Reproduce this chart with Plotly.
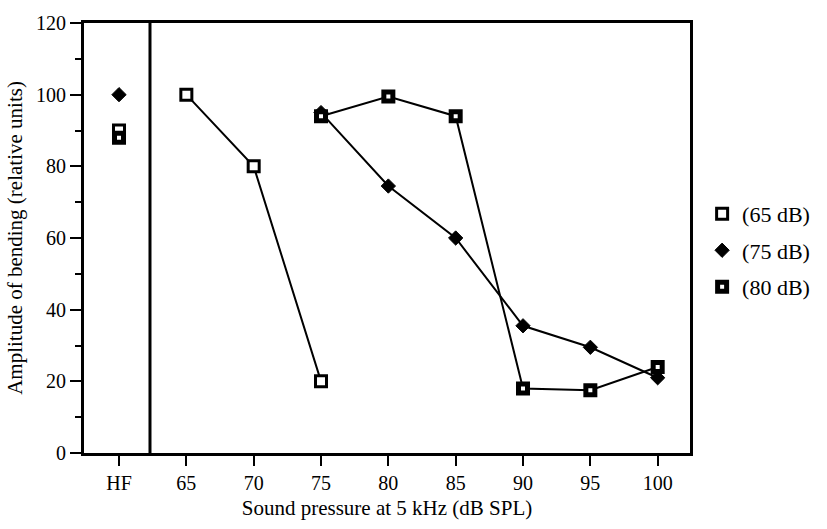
import plotly.graph_objects as go

# ---- data ----
x_main = [65, 70, 75, 80, 85, 90, 95, 100]
hf_pos = 60          # position of the "HF" category on the x scale
sep_pos = 62.3       # position of the separator between HF and the dB scale

s65_x = [65, 70, 75]
s65_y = [100, 80, 20]
s65_hf = 90

s75_x = [75, 80, 85, 90, 95, 100]
s75_y = [95, 74.5, 60, 35.5, 29.5, 21]
s75_hf = 100

s80_x = [75, 80, 85, 90, 95, 100]
s80_y = [94, 99.5, 94, 18, 17.5, 24]
s80_hf = 88

tick_vals = [60, 65, 70, 75, 80, 85, 90, 95, 100]
tick_text = ["HF", "65", "70", "75", "80", "85", "90", "95", "100"]

names = ["(65 dB)", "(75 dB)", "(80 dB)"]

FONT = "Liberation Serif, Times New Roman, serif"

fig = go.Figure()

# lines first
for xs, ys in [(s65_x, s65_y), (s75_x, s75_y), (s80_x, s80_y)]:
    fig.add_trace(go.Scatter(x=xs, y=ys, mode="lines",
                             line=dict(color="black", width=2),
                             showlegend=False, hoverinfo="skip"))

m65 = dict(symbol="square", size=11, color="white", line=dict(color="black", width=3))
m75 = dict(symbol="diamond", size=11, color="black", line=dict(color="black", width=1))
m80 = dict(symbol="square", size=9, color="white", line=dict(color="black", width=5))

# markers
fig.add_trace(go.Scatter(x=[hf_pos] + s65_x, y=[s65_hf] + s65_y, mode="markers",
                         marker=m65, name=names[0], legendgroup="a"))
fig.add_trace(go.Scatter(x=[hf_pos] + s75_x, y=[s75_hf] + s75_y, mode="markers",
                         marker=m75, name=names[1], legendgroup="b"))
fig.add_trace(go.Scatter(x=[hf_pos] + s80_x, y=[s80_hf] + s80_y, mode="markers",
                         marker=m80, name=names[2], legendgroup="c"))

fig.add_shape(type="line", x0=sep_pos, x1=sep_pos, y0=0, y1=120,
              xref="x", yref="y", line=dict(color="black", width=3))

fig.update_layout(
    width=827, height=529,
    margin=dict(l=84, r=122, t=15, b=66),
    paper_bgcolor="white", plot_bgcolor="white",
    font=dict(family=FONT, size=20, color="black"),
    showlegend=True,
    legend=dict(x=1.02, y=0.605, xanchor="left", yanchor="top",
                font=dict(family=FONT, size=22, color="black"),
                tracegroupgap=5, bgcolor="rgba(0,0,0,0)"),
    xaxis=dict(range=[57.4, 102.4], tickvals=tick_vals, ticktext=tick_text,
               showgrid=False, zeroline=False, showline=True, linecolor="black",
               linewidth=3, mirror=True, ticks="outside", ticklen=10, tickwidth=2,
               tickcolor="black", tickfont=dict(size=20),
               title=dict(text="Sound pressure at 5 kHz (dB SPL)",
                          font=dict(size=21), standoff=8)),
    yaxis=dict(range=[0, 120], dtick=20, showgrid=False, zeroline=False,
               showline=True, linecolor="black", linewidth=3, mirror=True,
               ticks="outside", ticklen=11, tickwidth=2, tickcolor="black",
               tickfont=dict(size=20),
               minor=dict(ticks="outside", ticklen=6, dtick=10, tickwidth=2,
                          tickcolor="black", showgrid=False),
               title=dict(text="Amplitude of bending (relative units)",
                          font=dict(size=21), standoff=8)),
)

fig.write_html("out.html")
